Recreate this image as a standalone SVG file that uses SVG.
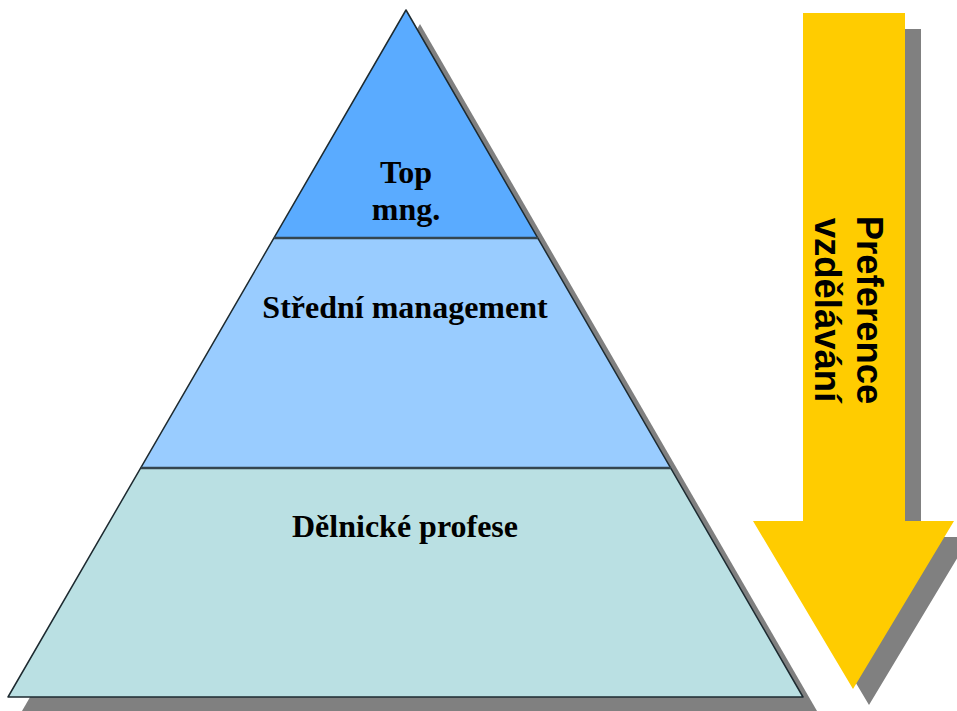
<svg xmlns="http://www.w3.org/2000/svg" width="957" height="711" viewBox="0 0 957 711">
<style>
.shadow{fill:#808080}
.lbl{font-family:"Liberation Serif","Times New Roman",serif;font-weight:bold;font-size:32px;fill:#000;text-anchor:middle}
.arrowtxt{font-family:"Liberation Sans",Arial,sans-serif;font-weight:bold;font-size:36.5px;fill:#000;text-anchor:middle}
.sep{stroke:#34454f;stroke-width:2.5}
</style>
<rect width="957" height="711" fill="#fff"/>
<g id="shadows">
<polygon class="shadow" points="420,24 817,711 22,711"/>
<polygon class="shadow" points="819,29 921,29 921,537 970,537 869,705 769,537 819,537"/>
</g>
<g id="pyramid-bottom">
<polygon points="141,468 671,468 803,697 8,697" fill="#bae0e3"/>
<text class="lbl" x="405" y="537">Dělnické profese</text>
</g>
<g id="pyramid-middle">
<polygon points="274,238 538,238 671,468 141,468" fill="#99ccff"/>
<text class="lbl" x="405" y="318">Střední management</text>
</g>
<g id="pyramid-top">
<polygon points="406,10 538,238 274,238" fill="#5aabff"/>
<text class="lbl" x="406" y="183">Top</text>
<text class="lbl" x="406" y="220">mng.</text>
</g>
<g id="outline">
<polygon points="406,10 803,697 8,697" fill="none" stroke="#1d2a30" stroke-width="1.5" stroke-linejoin="round"/>
<line class="sep" x1="274" y1="238" x2="538" y2="238"/>
<line class="sep" x1="141" y1="468" x2="671" y2="468"/>
</g>
<g id="arrow">
<polygon points="803,13 905,13 905,521 954,521 853,689 753,521 803,521" fill="#ffcc00"/>
<text class="arrowtxt" transform="translate(857,310) rotate(90)">Preference</text>
<text class="arrowtxt" transform="translate(815,310) rotate(90)">vzdělávání</text>
</g>
</svg>
